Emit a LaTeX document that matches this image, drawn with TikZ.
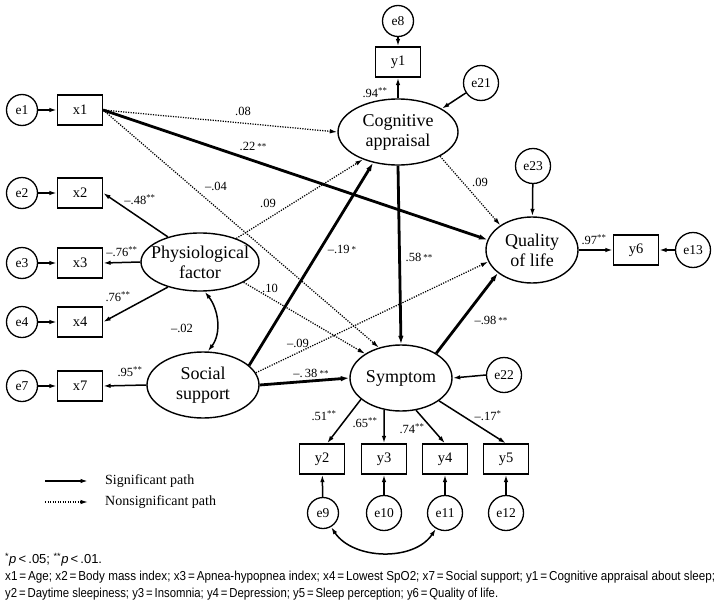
\documentclass[tikz,border=0pt]{standalone}
\usepackage{fontspec}
\setmainfont{Liberation Serif}
\setsansfont{Liberation Sans}
\usepackage{graphicx}
\usetikzlibrary{shapes.geometric,arrows.meta,calc}
\begin{document}
\begin{tikzpicture}[x=1pt,y=-1pt,
  every node/.style={inner sep=0pt},
  evar/.style={circle,draw,line width=1.3pt,minimum size=31pt,font=\fontsize{13.5}{13.5}\selectfont},
  evarw/.style={evar,minimum size=35pt},
  obs/.style={rectangle,draw,line width=1.3pt,minimum width=45pt,minimum height=30pt,font=\fontsize{14.5}{14.5}\selectfont},
  lat/.style={ellipse,draw,line width=1.4pt},
  lattext/.style={align=center,font=\fontsize{18}{20}\selectfont},
  pth/.style={-{Latex[length=7.5pt,width=4.5pt]},line width=1.5pt},
  thk/.style={-{Latex[length=8.5pt,width=5.5pt]},line width=2.8pt},
  dot/.style={-{Latex[length=7.5pt,width=4.5pt]},line width=1.25pt,dash pattern=on 1.2pt off 1.3pt},
  cov/.style={{Latex[length=7.5pt,width=4.5pt]}-{Latex[length=7.5pt,width=4.5pt]},line width=1.5pt},
  lbl/.style={font=\fontsize{12.5}{13}\selectfont},
  legtext/.style={anchor=west,font=\fontsize{14}{14}\selectfont},
  foot/.style={anchor=west,font=\sffamily\fontsize{13}{15}\selectfont},
]
\newcommand{\sst}[1]{\textsuperscript{#1}}
\newcommand{\bst}[1]{\,\raisebox{1pt}{\fontsize{9}{9}\selectfont #1}}
\fill[white] (0,0) rectangle (718,608);
\useasboundingbox (0,0) rectangle (718,608);

% latent variables
\node[lat,minimum width=120pt,minimum height=66pt,label={[lattext]center:Cognitive\\appraisal}] (cog) at (398,132) {};
\node[lat,minimum width=118pt,minimum height=58pt,label={[lattext]center:Physiological\\factor}] (phys) at (200,262) {};
\node[lat,minimum width=112pt,minimum height=66pt,label={[lattext]center:Social\\support}] (soc) at (203,385) {};
\node[lat,minimum width=92pt,minimum height=66pt,label={[lattext]center:Quality\\of life}] (qol) at (532,250) {};
\node[lat,minimum width=102pt,minimum height=66pt,label={[lattext]center:Symptom}] (sym) at (401,378) {};

% observed
\node[obs] (x1) at (80,110) {x1};
\node[obs] (x2) at (80,193) {x2};
\node[obs] (x3) at (80,263) {x3};
\node[obs] (x4) at (80,322) {x4};
\node[obs] (x7) at (80,386) {x7};
\node[obs] (y1) at (398,62) {y1};
\node[obs] (y6) at (636,250) {y6};
\node[obs] (y2) at (322,459) {y2};
\node[obs] (y3) at (384,459) {y3};
\node[obs] (y4) at (445,459) {y4};
\node[obs] (y5) at (506,459) {y5};

% errors
\node[evar] (e1) at (22,110) {e1};
\node[evar] (e2) at (22,193) {e2};
\node[evar] (e3) at (22,263) {e3};
\node[evar] (e4) at (22,322) {e4};
\node[evar] (e7) at (22,386) {e7};
\node[evar] (e8) at (398,21) {e8};
\node[evarw] (e21) at (481,83) {e21};
\node[evarw] (e23) at (533,166) {e23};
\node[evarw] (e13) at (693,250) {e13};
\node[evarw] (e22) at (504,375) {e22};
\node[evar] (e9) at (323,513) {e9};
\node[evarw] (e10) at (384,513) {e10};
\node[evarw] (e11) at (445,513) {e11};
\node[evarw] (e12) at (506,513) {e12};

% error arrows
\draw[pth] (e1) -- (x1);
\draw[pth] (e2) -- (x2);
\draw[pth] (e3) -- (x3);
\draw[pth] (e4) -- (x4);
\draw[pth] (e7) -- (x7);
\draw[pth] (e8) -- (y1);
\draw[pth] (e21) -- (cog.28);
\draw[pth] (e23) -- (qol);
\draw[pth] (e13) -- (y6);
\draw[pth] (e22.west) -- (sym.east);
\draw[pth] (e9) -- (y2);
\draw[pth] (e10) -- (y3);
\draw[pth] (e11) -- (y4);
\draw[pth] (e12) -- (y5);

% measurement
\draw[pth] (phys.142) -- (x2.east);
\draw[pth] (phys.west) -- (x3.east);
\draw[pth] (phys.218) -- (x4.east);
\draw[pth] (soc.west) -- (x7.east);
\draw[pth] (cog.north) -- (y1.south);
\draw[pth] (qol.east) -- (y6.west);
\draw[pth] (sym.208) -- (y2.72);
\draw[pth] (sym.242) -- (y3.north);
\draw[pth] (sym.295) -- (y4.north);
\draw[pth] (sym.329) -- (y5.north);

% structural
\draw[dot] (x1.east) -- (cog.west);
\draw[thk] (x1.east) -- (qol.167);
\draw[dot] (x1.east) -- (sym.126);
\draw[dot] (phys.33) -- (cog.218);
\draw[dot] (phys.335) -- (sym.146);
\draw[thk] (soc.23) -- (cog.231);
\draw[dot] (soc.13) -- (qol.195);
\draw[thk] (soc.east) -- (sym.west);
\draw[dot] (cog.330) -- (qol.142);
\draw[thk] (cog.south) -- (sym.north);
\draw[thk] (sym.35) -- (qol.214);

% covariances
\draw[cov] (phys.279) .. controls ($(phys.279)+(14,18)$) and ($(soc.82)+(14,-18)$) .. (soc.82);
\draw[cov] (e9.300) .. controls ($(e9.300)+(22,33)$) and ($(e11.240)+(-22,33)$) .. (e11.240);

% labels
\node[lbl] at (243,111) {.08};
\node[lbl] at (253,146) {.22\bst{**}};
\node[lbl] at (216,186) {–.04};
\node[lbl] at (268,203) {.09};
\node[lbl] at (140,200) {–.48\sst{**}};
\node[lbl] at (122,252) {–.76\sst{**}};
\node[lbl] at (118,297) {.76\sst{**}};
\node[lbl] at (182,328) {–.02};
\node[lbl] at (130,372) {.95\sst{**}};
\node[lbl] at (270,288) {.10};
\node[lbl] at (342,249) {–.19\bst{*}};
\node[lbl] at (298,343) {–.09};
\node[lbl] at (311,373) {–.\,38\bst{**}};
\node[lbl] at (375,93) {.94\sst{**}};
\node[lbl] at (480,182) {.09};
\node[lbl] at (419,257) {.58\bst{**}};
\node[lbl] at (594,240) {.97\sst{**}};
\node[lbl] at (491,320) {–.98\bst{**}};
\node[lbl] at (324,416) {.51\sst{**}};
\node[lbl] at (365,423) {.65\sst{**}};
\node[lbl] at (412,429) {.74\sst{**}};
\node[lbl] at (488,416) {–.17\sst{*}};

% legend
\coordinate (ls1) at (45,481);
\coordinate (le1) at (88,481);
\coordinate (ls2) at (45,502);
\coordinate (le2) at (88,502);
\draw[pth] (ls1) -- (le1);
\draw[dot] (ls2) -- (le2);
\node[legtext] (lt1) at (105,481) {Significant path};
\node[legtext] (lt2) at (105,502) {Nonsignificant path};

% footnote
\node[foot] (f1) at (5,560) {\sst{*}\textit{p}\,<\,.05; \sst{**}\textit{p}\,<\,.01.};
\node[foot] (f2) at (5,577) {\resizebox{710pt}{\height}{x1\,=\,Age; x2\,=\,Body mass index; x3\,=\,Apnea-hypopnea index; x4\,=\,Lowest SpO2; x7\,=\,Social support; y1\,=\,Cognitive appraisal about sleep;}};
\node[foot] (f3) at (5,594) {\resizebox{493pt}{\height}{y2\,=\,Daytime sleepiness; y3\,=\,Insomnia; y4\,=\,Depression; y5\,=\,Sleep perception; y6\,=\,Quality of life.}};
\end{tikzpicture}
\end{document}
